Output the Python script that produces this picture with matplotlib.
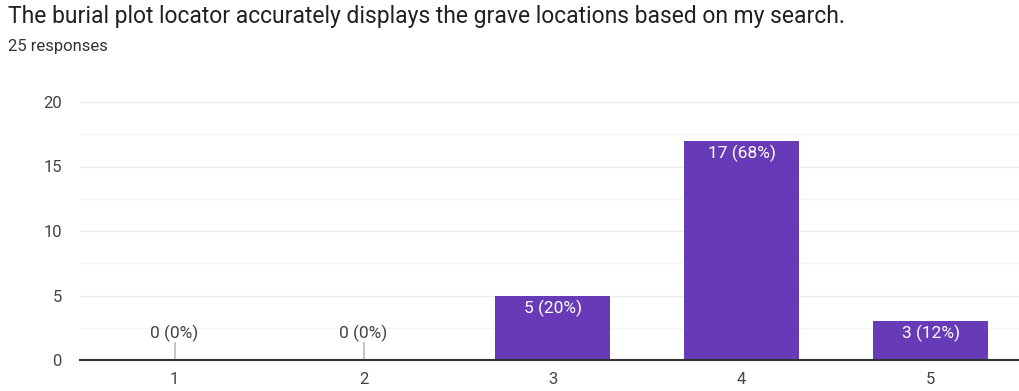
import matplotlib
matplotlib.use("Agg")
import matplotlib.pyplot as plt
from matplotlib.ticker import MultipleLocator

plt.rcParams['font.family'] = ['Roboto', 'DejaVu Sans']

categories = ["1", "2", "3", "4", "5"]
counts = [0, 0, 5, 17, 3]
total_responses = 25
title = "The burial plot locator accurately displays the grave locations based on my search."
subtitle = f"{total_responses} responses"

bar_color = "#673ab7"

fig = plt.figure(figsize=(10.19, 3.91), dpi=100)
W, H = 1019, 391
ax_left, ax_right, ax_top, ax_bottom = 80, 1019, 102, 360
ax = fig.add_axes([ax_left / W, 1 - ax_bottom / H, (ax_right - ax_left) / W, (ax_bottom - ax_top) / H])

x = list(range(1, len(categories) + 1))
band = 189.0
ax.set_xlim(0.5, 0.5 + (ax_right - ax_left) / band)
ax.set_ylim(0, 20)

ax.bar(x, counts, width=0.61, color=bar_color, zorder=3)

# grid: major every 5, faint minor every 2.5
ax.yaxis.set_major_locator(MultipleLocator(5))
ax.yaxis.set_minor_locator(MultipleLocator(2.5))
ax.grid(axis='y', which='major', color='#ebebeb', linewidth=1.0, zorder=0)
ax.grid(axis='y', which='minor', color='#f4f4f4', linewidth=1.0, zorder=0)
ax.set_axisbelow(True)

for s in ['top', 'right', 'left']:
    ax.spines[s].set_visible(False)
ax.spines['bottom'].set_color('#333333')
ax.spines['bottom'].set_linewidth(1.5)
ax.spines['bottom'].set_zorder(4)

ax.set_xticks(x)
ax.set_xticklabels(categories)
ax.tick_params(axis='both', which='both', length=0, labelsize=12, colors='#444444')
ax.tick_params(axis='x', pad=9)
ax.tick_params(axis='y', pad=13)

for xi, c in zip(x, counts):
    pct = round(100 * c / total_responses)
    label = f"{c} ({pct}%)"
    if c == 0:
        ax.plot([xi, xi], [0, 1.3], color='#bbbbbb', linewidth=1.2, zorder=2)
        ax.text(xi, 1.4, label, ha='center', va='bottom', fontsize=12.5, color='#444444')
    else:
        ax.text(xi, c - 0.3, label, ha='center', va='top', fontsize=12.5, color='white', zorder=5)

fig.text(8 / W, 1 - 17 / H, title, ha='left', va='center', fontsize=16.5, color='#202124')
fig.text(8 / W, 1 - 46 / H, subtitle, ha='left', va='center', fontsize=12, color='#333333')

fig.savefig("out.png", dpi=100)
